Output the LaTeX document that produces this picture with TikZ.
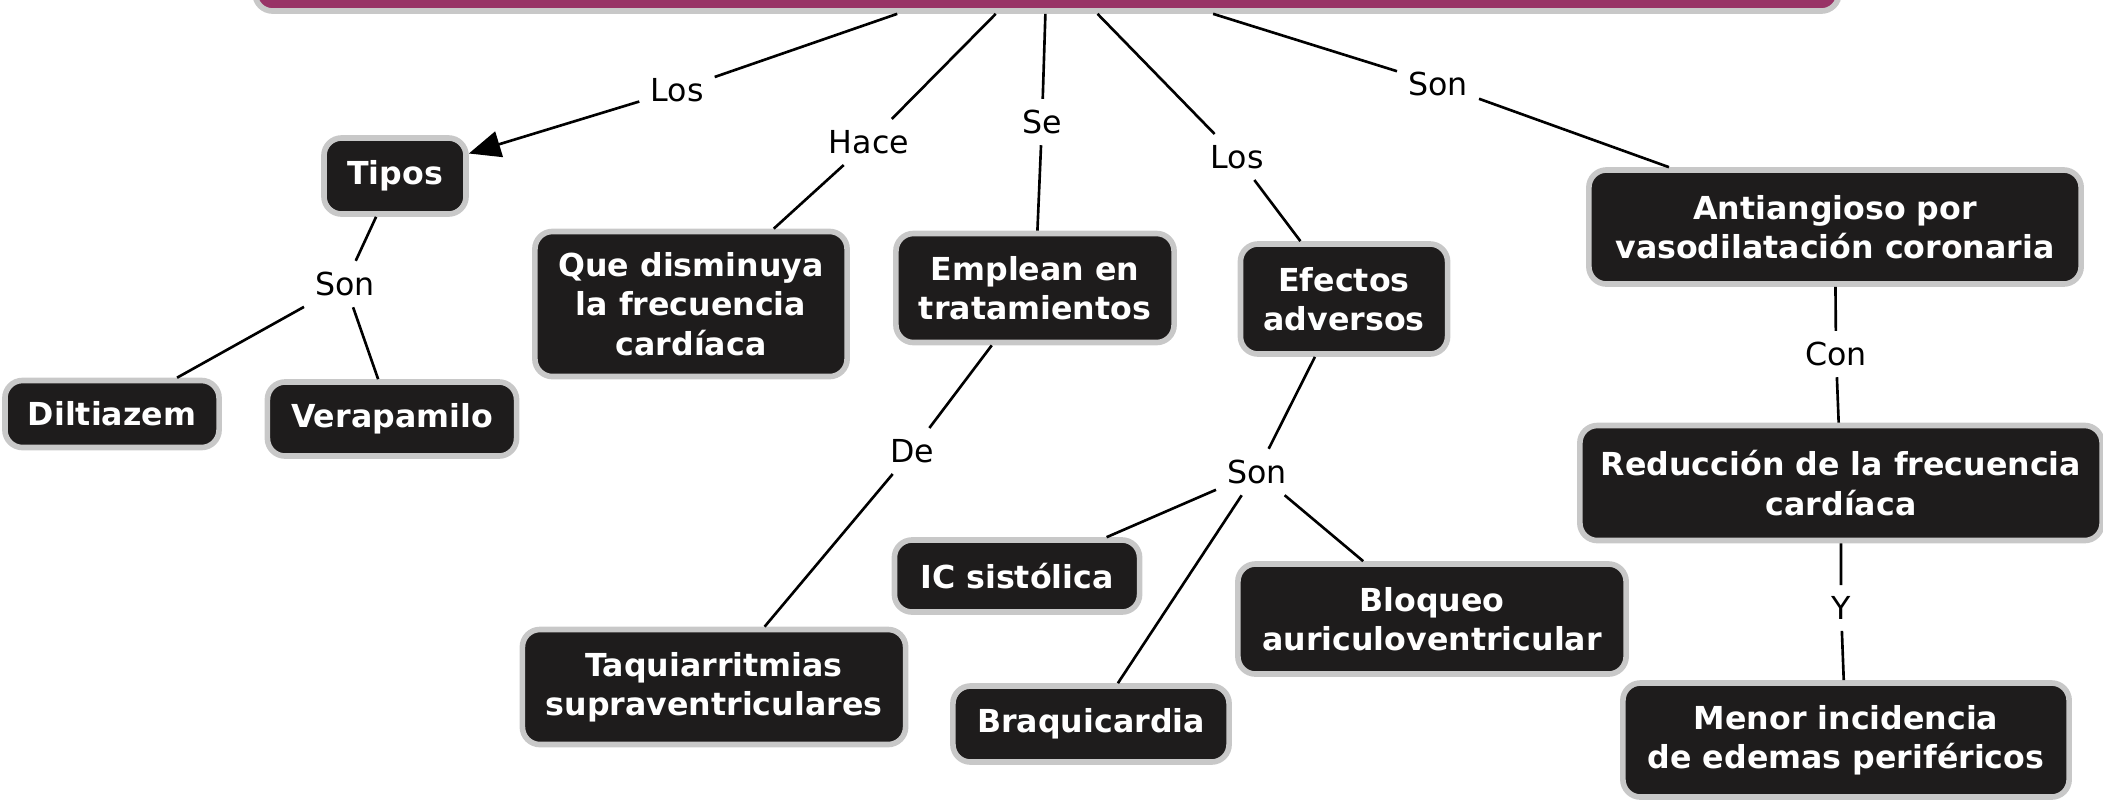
\documentclass[tikz,border=0pt]{standalone}
\usepackage{fontspec}
\setmainfont{DejaVu Sans}
\usetikzlibrary{arrows.meta}

\definecolor{barra}{RGB}{152,51,102}
\definecolor{fondo}{RGB}{30,28,28}
\definecolor{borde}{RGB}{200,200,200}

\tikzset{
  concepto/.style={draw=borde, line width=1.6pt, fill=fondo, rounded corners=5pt,
    text=white, align=center, inner sep=0pt,
    font=\fontsize{9}{11.2}\selectfont\bfseries},
  enlace/.style={font=\fontsize{9}{11}\selectfont, inner sep=3pt},
  linea/.style={line width=0.75pt, black},
}

\begin{document}
\begin{tikzpicture}[x=0.01cm, y=-0.01cm]
  \useasboundingbox (0,0) rectangle (2103,799);

%% The title bar sits mostly above the page, only its lower edge shows.
  \node[concepto, fill=barra, minimum width=15.83cm, minimum height=0.98cm] (titulo) at (1047,-38) {};

%% Concepts
  \node[concepto, minimum width=1.42cm, minimum height=0.76cm] (tipos) at (395,176) {Tipos};
  \node[concepto, minimum width=2.14cm, minimum height=0.67cm] (diltiazem) at (112,414) {Diltiazem};
  \node[concepto, minimum width=2.49cm, minimum height=0.74cm] (verapamilo) at (392,419) {Verapamilo};
  \node[concepto, minimum width=3.12cm, minimum height=1.45cm] (disminuya) at (691,304) {Que disminuya\\la frecuencia\\cardíaca};
  \node[concepto, minimum width=2.78cm, minimum height=1.09cm] (emplean) at (1035,288) {Emplean en\\tratamientos};
  \node[concepto, minimum width=2.07cm, minimum height=1.10cm] (efectos) at (1344,299) {Efectos\\adversos};
  \node[concepto, minimum width=4.92cm, minimum height=1.14cm] (antiangioso) at (1835,227) {Antiangioso por\\vasodilatación coronaria};
  \node[concepto, minimum width=5.22cm, minimum height=1.15cm] (reduccion) at (1841,483) {Reducción de la frecuencia\\cardíaca};
  \node[concepto, minimum width=4.46cm, minimum height=1.14cm] (menor) at (1846,740) {Menor incidencia\\de edemas periféricos};
  \node[concepto, minimum width=3.83cm, minimum height=1.15cm] (taquiarritmias) at (714,687) {Taquiarritmias\\supraventriculares};
  \node[concepto, minimum width=2.45cm, minimum height=0.72cm] (ic) at (1017,576) {IC sistólica};
  \node[concepto, minimum width=3.88cm, minimum height=1.10cm] (bloqueo) at (1432,619) {Bloqueo\\auriculoventricular};
  \node[concepto, minimum width=2.76cm, minimum height=0.76cm] (braquicardia) at (1091,724) {Braquicardia};

%% Linking words
  \node[enlace] (los1) at (677,90) {Los};
  \node[enlace] (hace) at (869,142) {Hace};
  \node[enlace] (se) at (1042,122) {Se};
  \node[enlace] (los2) at (1237,157) {Los};
  \node[enlace] (son1) at (1438,84) {Son};
  \node[enlace] (son2) at (345,284) {Son};
  \node[enlace] (de) at (912,451) {De};
  \node[enlace] (son3) at (1257,472) {Son};
  \node[enlace] (con) at (1836,354) {Con};
  \node[enlace] (y) at (1841,608) {Y};

%% Connections
  \draw[linea] (titulo) -- (los1);
  \draw[linea, -{Triangle[length=9pt,width=7.5pt]}] (los1) -- (tipos);
  \draw[linea] (titulo) -- (hace) -- (disminuya);
  \draw[linea] (titulo) -- (se) -- (emplean);
  \draw[linea] (titulo) -- (los2) -- (efectos);
  \draw[linea] (titulo) -- (son1) -- (antiangioso);
  \draw[linea] (tipos) -- (son2);
  \draw[linea] (son2) -- (diltiazem);
  \draw[linea] (son2) -- (verapamilo);
  \draw[linea] (emplean) -- (de) -- (taquiarritmias);
  \draw[linea] (efectos) -- (son3);
  \draw[linea] (son3) -- (ic);
  \draw[linea] (son3) -- (braquicardia);
  \draw[linea] (son3) -- (bloqueo);
  \draw[linea] (antiangioso) -- (con) -- (reduccion);
  \draw[linea] (reduccion) -- (y) -- (menor);
\end{tikzpicture}
\end{document}
